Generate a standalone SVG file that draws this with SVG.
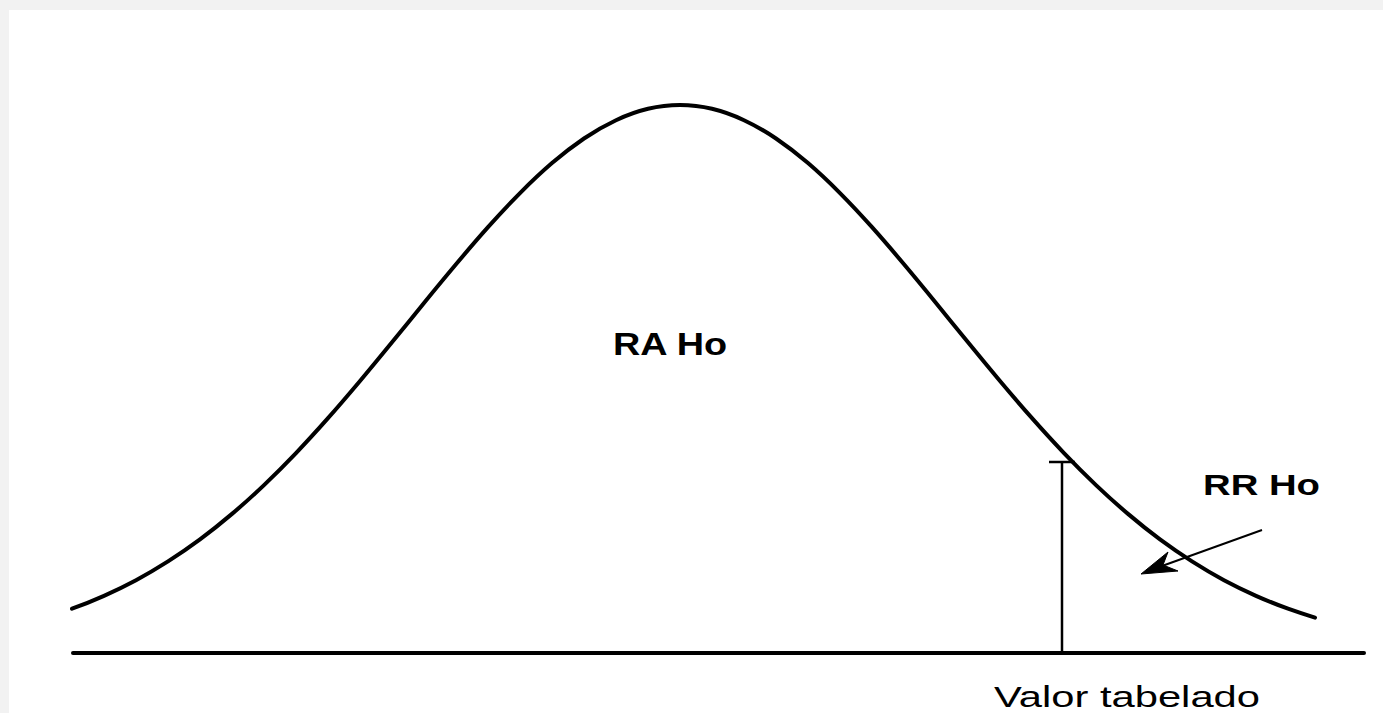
<svg xmlns="http://www.w3.org/2000/svg" width="1383" height="713" viewBox="0 0 1383 713">
<style>
.curve{fill:none;stroke:#000;stroke-width:4;stroke-linejoin:round;stroke-linecap:round}
.axis{fill:none;stroke:#000;stroke-width:4;stroke-linecap:round}
.thin{fill:none;stroke:#000;stroke-width:2.5}
.lbl{font-family:"Liberation Sans",Arial,sans-serif;fill:#000}
.b{font-weight:bold}
</style>
<rect x="0" y="0" width="1383" height="713" fill="#f2f2f2"/>
<rect x="9" y="10" width="1374" height="703" fill="#ffffff"/>
<g id="curve">
<path class="curve" d="M72,608.7 C82.67,604.85 93.33,600.54 104,595.8 S125.33,585.92 136,580.2 S157.33,568.19 168,561.4 S189.33,547.31 200,539.4 S221.33,522.95 232,513.9 S253.33,495.26 264,485.1 S285.33,464.28 296,453.1 S317.33,430.24 328,418.2 S349.33,393.69 360,381 S381.33,355.35 392,342.3 S413.33,316.07 424,303 S445.33,277.01 456,264.3 S477.33,239.13 488,227.2 S509.33,203.84 520,193.1 S541.33,172.26 552,163.1 S573.33,145.71 584,138.5 S605.33,125.18 616,120.2 S637.33,111.34 648,108.8 S669.33,105 680,105 S701.33,106.26 712,108.8 S733.33,115.22 744,120.2 S765.33,131.29 776,138.5 S797.33,153.94 808,163.1 S829.33,182.36 840,193.1 S861.33,215.27 872,227.2 S893.33,251.59 904,264.3 S925.33,289.93 936,303 S957.33,329.25 968,342.3 S989.33,368.31 1000,381 S1021.33,406.16 1032,418.2 S1053.33,441.93 1064,453.1 S1085.33,474.94 1096,485.1 S1117.33,504.85 1128,513.9 S1149.33,531.49 1160,539.4 S1181.33,554.61 1192,561.4 S1213.33,574.49 1224,580.2 S1245.33,591.06 1256,595.8 S1277.33,604.85 1288,608.7 C1297,611.95 1306,614.9 1315,617.6"/>
</g>
<g id="axis">
<line class="axis" x1="73" y1="653" x2="1364" y2="653"/>
</g>
<g id="critical">
<line class="thin" x1="1062" y1="462" x2="1062" y2="653"/>
<line class="thin" x1="1049" y1="462" x2="1075" y2="462" stroke-width="2"/>
</g>
<g id="ra">
<text class="lbl b" x="613" y="355" font-size="31" textLength="114" lengthAdjust="spacingAndGlyphs">RA Ho</text>
</g>
<g id="rr">
<text class="lbl b" x="1203" y="495" font-size="29" textLength="117" lengthAdjust="spacingAndGlyphs">RR Ho</text>
</g>
<g id="valor">
<text class="lbl" x="994" y="707" font-size="29" textLength="266" lengthAdjust="spacingAndGlyphs">Valor tabelado</text>
</g>
<g id="connectors">
<line x1="1262" y1="530" x2="1162" y2="566" stroke="#000" stroke-width="2"/>
<polygon points="1141,574 1168,552 1163,565 1178,571" fill="#000" stroke="#000" stroke-width="1" stroke-linejoin="round"/>
</g>
</svg>
